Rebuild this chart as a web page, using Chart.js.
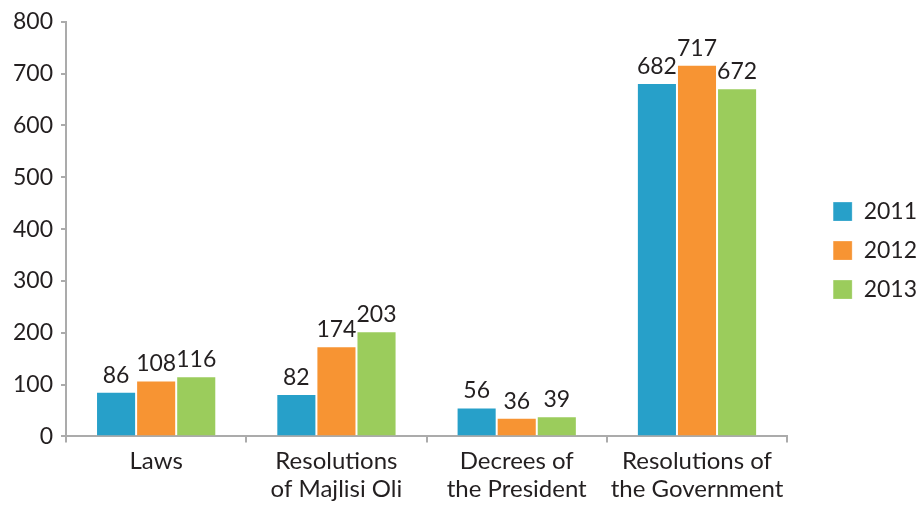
<!DOCTYPE html>
<html>
<head>
<meta charset="utf-8">
<script src="https://cdn.jsdelivr.net/npm/chart.js@4"></script>
<style>
  html, body { margin: 0; padding: 0; background: #fff; }
  #wrap { width: 919px; height: 509px; }
</style>
</head>
<body>
<div id="wrap"><canvas id="acts"></canvas></div>
<script>
// Data
const categories = [
    "Laws",
    ["Resolutions", "of Majlisi Oli"],
    ["Decrees of", "the President"],
    ["Resolutions of", "the Government"]
];
const years = ["2011", "2012", "2013"];
const values2011 = [86, 82, 56, 682];
const values2012 = [108, 174, 36, 717];
const values2013 = [116, 203, 39, 672];
const yTicks = [0, 100, 200, 300, 400, 500, 600, 700, 800];

const colors = ["#27A0C9", "#F79433", "#9BCC5C"];
const axisGray = "#ABABAB";
const textColor = "#231F20";
const fontFamily = "Lato, 'Open Sans', sans-serif";

// value labels over the bars
const barLabels = {
    id: "barLabels",
    afterDatasetsDraw(chart) {
        const ctx = chart.ctx;
        ctx.save();
        ctx.font = "23px " + fontFamily;
        ctx.fillStyle = textColor;
        ctx.textAlign = "center";
        ctx.textBaseline = "alphabetic";
        chart.data.datasets.forEach((ds, i) => {
            chart.getDatasetMeta(i).data.forEach((bar, j) => {
                ctx.fillText(ds.data[j], bar.x, bar.y - 9);
            });
        });
        ctx.restore();
    }
};

const seriesValues = [values2011, values2012, values2013];

new Chart(document.getElementById("acts"), {
    type: "bar",
    data: {
        labels: categories,
        datasets: years.map((y, i) => ({
            label: y,
            data: seriesValues[i],
            backgroundColor: colors[i],
            borderColor: "rgba(255,255,255,0.25)",
            borderWidth: 1,
            barPercentage: 1,
            categoryPercentage: 0.667
        }))
    },
    options: {
        responsive: true,
        maintainAspectRatio: false,
        animation: false,
        layout: { padding: { top: 15, right: -8, left: 5, bottom: 1 } },
        plugins: {
            legend: {
                position: "right",
                fullSize: false,
                title: { display: true, text: " ", font: { size: 12 }, padding: 14.3 },
                labels: {
                    boxWidth: 19,
                    boxHeight: 19,
                    padding: 16,
                    color: textColor,
                    font: { family: fontFamily, size: 23 }
                }
            },
            tooltip: { enabled: false }
        },
        scales: {
            x: {
                border: { color: axisGray, width: 2 },
                grid: { drawOnChartArea: false, color: axisGray, lineWidth: 2, tickLength: 6 },
                ticks: { color: textColor, font: { family: fontFamily, size: 24, lineHeight: 1.2 }, padding: 4, maxRotation: 0 }
            },
            y: {
                min: 0,
                max: 800,
                afterBuildTicks(axis) { axis.ticks = yTicks.map(v => ({ value: v })); },
                border: { color: axisGray, width: 2 },
                grid: { drawOnChartArea: false, color: axisGray, lineWidth: 2, tickLength: 5 },
                ticks: { color: textColor, font: { family: fontFamily, size: 23 }, padding: 8 }
            },
            // empty spacer between plot and legend
            gap: {
                position: "right",
                display: true,
                grid: { display: false },
                border: { display: false },
                ticks: { display: false },
                afterFit(axis) { axis.width = 30; }
            }
        }
    },
    plugins: [barLabels]
});
</script>
</body>
</html>
